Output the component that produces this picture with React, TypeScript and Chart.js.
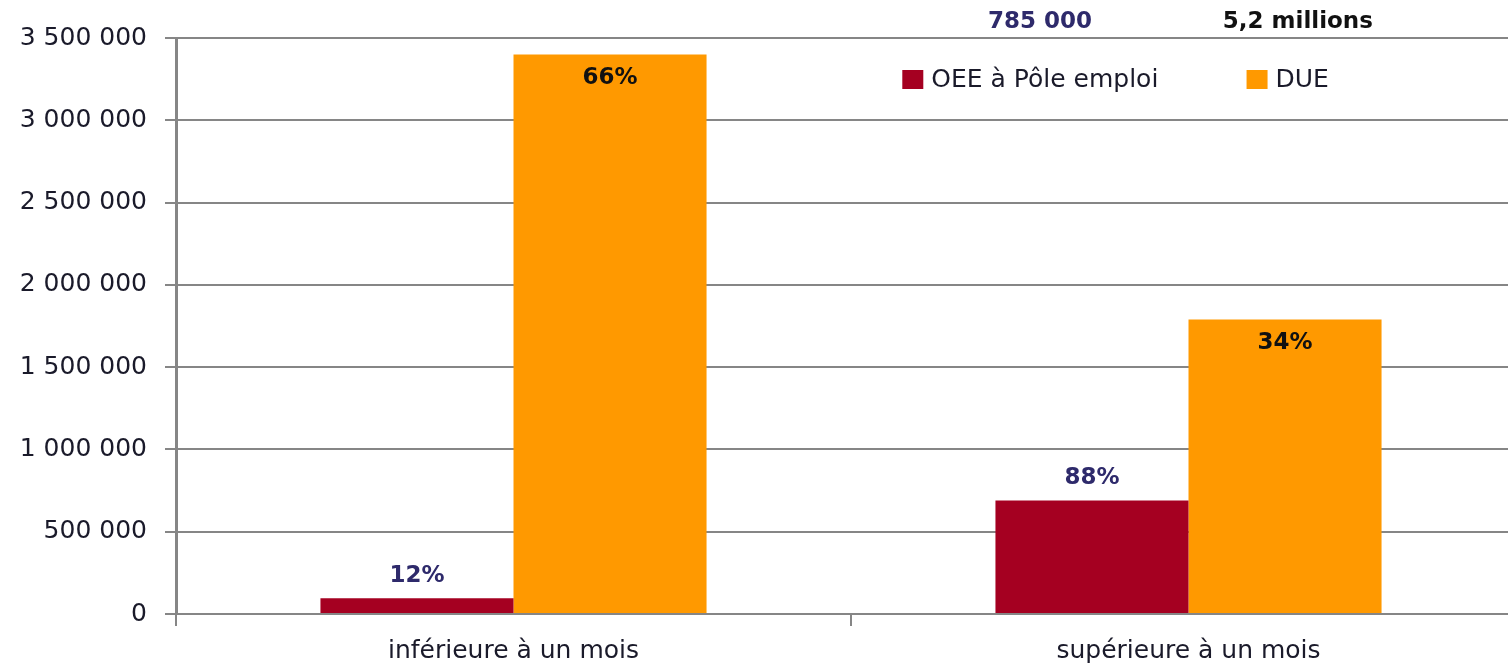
import React, { useEffect, useRef } from "react";
import { Chart, registerables } from "chart.js";

Chart.register(...registerables);

const categories = ["inférieure à un mois", "supérieure à un mois"];
const seriesNames = ["OEE à Pôle emploi", "DUE"];
const oeeValues = [95000, 690000];
const dueValues = [3400000, 1790000];
const oeeLabels = ["12%", "88%"];
const dueLabels = ["66%", "34%"];
const totalLabels = ["785 000", "5,2 millions"];
const yTicks = [0, 500000, 1000000, 1500000, 2000000, 2500000, 3000000, 3500000];

const RED = "#A50021";
const ORANGE = "#FF9900";
const GRID = "#868686";
const FONT = "'DejaVu Sans', sans-serif";

function fmt(v: number) {
  return String(v).replace(/\B(?=(\d{3})+(?!\d))/g, " ");
}

const labelPlugin = {
  id: "customLabels",
  afterDatasetsDraw(chart: any) {
    const ctx = chart.ctx;
    const area = chart.chartArea;
    ctx.save();
    ctx.textAlign = "center";
    ctx.textBaseline = "middle";
    ctx.font = `bold 23px ${FONT}`;
    const m0 = chart.getDatasetMeta(0);
    m0.data.forEach((el: any, i: number) => {
      ctx.fillStyle = "#2e2a6b";
      ctx.fillText(oeeLabels[i], el.x, el.y - 22);
    });
    const m1 = chart.getDatasetMeta(1);
    m1.data.forEach((el: any, i: number) => {
      ctx.fillStyle = "#111";
      ctx.fillText(dueLabels[i], el.x, el.y + 24);
    });
    // totals above plot
    const w = area.right - area.left;
    ctx.fillStyle = "#2e2a6b";
    ctx.fillText(totalLabels[0], area.left + w * 0.64, 22);
    ctx.fillStyle = "#111";
    ctx.fillText(totalLabels[1], area.left + w * 0.831, 22);
    // legend
    ctx.font = `25px ${FONT}`;
    ctx.textAlign = "left";
    const ly = 79;
    const items = [
      { x: area.left + w * 0.538, color: RED, text: seriesNames[0] },
      { x: area.left + w * 0.793, color: ORANGE, text: seriesNames[1] },
    ];
    items.forEach((it) => {
      ctx.fillStyle = it.color;
      ctx.fillRect(it.x, ly - 9, 21, 19);
      ctx.fillStyle = "#1a1a2a";
      ctx.fillText(it.text, it.x + 29, ly + 1);
    });
    ctx.restore();
  },
};

export default function App() {
  const ref = useRef<HTMLCanvasElement | null>(null);
  useEffect(() => {
    if (!ref.current) return;
    const chart = new Chart(ref.current, {
      type: "bar",
      data: {
        labels: categories,
        datasets: [
          {
            label: seriesNames[0],
            data: oeeValues,
            backgroundColor: RED,
            barPercentage: 1,
            categoryPercentage: 0.572,
          },
          {
            label: seriesNames[1],
            data: dueValues,
            backgroundColor: ORANGE,
            barPercentage: 1,
            categoryPercentage: 0.572,
          },
        ],
      },
      options: {
        animation: false,
        responsive: false,
        devicePixelRatio: 1,
        layout: { padding: { top: 38, right: 0, left: 0, bottom: 0 } },
        plugins: { legend: { display: false }, tooltip: { enabled: false } },
        scales: {
          x: {
            grid: {
              display: true,
              drawOnChartArea: false,
              drawTicks: true,
              tickLength: 12,
              offset: true,
              color: GRID,
              lineWidth: 2,
            },
            border: { display: true, color: GRID, width: 2 },
            ticks: {
              color: "#1a1a2a",
              font: { family: FONT, size: 25 },
              padding: 10,
              maxRotation: 0,
            },
            afterFit(scale: any) {
              scale.height = 53;
            },
          },
          y: {
            min: 0,
            max: 3500000,
            afterBuildTicks(scale: any) {
              scale.ticks = yTicks.map((v) => ({ value: v }));
            },
            grid: {
              color: GRID,
              lineWidth: 2,
              tickLength: 11,
              drawTicks: true,
            },
            border: { display: true, color: GRID, width: 3 },
            ticks: {
              color: "#1a1a2a",
              font: { family: FONT, size: 25 },
              padding: 18,
              callback: (v: any) => fmt(Number(v)),
            },
            afterFit(scale: any) {
              scale.width = 176;
            },
          },
        },
      },
      plugins: [labelPlugin],
    });
    return () => chart.destroy();
  }, []);
  return (
    <div
      style={{
        position: "fixed",
        left: 0,
        top: 0,
        width: 1508,
        height: 667,
        overflow: "hidden",
        background: "#fff",
      }}
    >
      <canvas ref={ref} width={1526} height={667} style={{ display: "block" }} />
    </div>
  );
}
